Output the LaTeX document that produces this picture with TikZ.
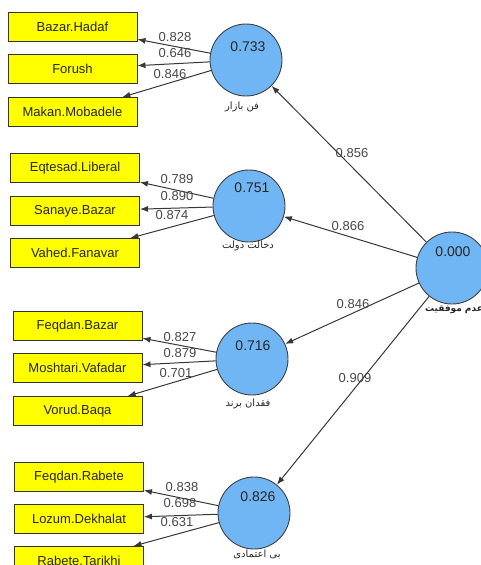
\documentclass[tikz,border=0pt]{standalone}
\usepackage{fontspec}
\setmainfont{Liberation Sans}
\newfontfamily\arabicfont[Script=Arabic]{DejaVu Sans}
\TeXXeTstate=1
\usetikzlibrary{arrows.meta}
\definecolor{boxyellow}{RGB}{255,255,0}
\definecolor{latblue}{RGB}{112,182,244}
\definecolor{linegray}{RGB}{55,55,55}
\begin{document}
\begin{tikzpicture}[x=1pt,y=-1pt,
  ind/.style={draw=black!80, line width=0.9pt, fill=boxyellow, minimum width=129pt, minimum height=29pt, inner sep=0pt, font=\fontsize{13}{15}\selectfont, text=black!85},
  lat/.style={circle, draw=black!75, line width=0.9pt, fill=latblue, minimum size=72pt, inner sep=0pt},
  arr/.style={draw=linegray, line width=1pt, -{Latex[length=8pt,width=6pt]}},
  wt/.style={font=\fontsize{13}{15}\selectfont, text=black!72, inner sep=0pt},
  rsq/.style={font=\fontsize{14}{16}\selectfont, text=black!85, inner sep=0pt},
  alab/.style={font=\arabicfont\fontsize{10}{12}\selectfont, inner sep=0pt, text=black!85}]
\useasboundingbox (0,0) rectangle (480,565);
% latent variables
\node[lat] (c1) at (246,60) {};
\node[lat] (c2) at (249,206) {};
\node[lat] (c3) at (252,359) {};
\node[lat] (c4) at (254,513) {};
\node[lat] (c0) at (452,268) {};
% indicators
\node[ind] (b11) at (72.5,27) {Bazar.Hadaf};
\node[ind] (b12) at (72.5,69) {Forush};
\node[ind] (b13) at (72.5,112) {Makan.Mobadele};
\node[ind] (b21) at (75,168) {Eqtesad.Liberal};
\node[ind] (b22) at (75,211) {Sanaye.Bazar};
\node[ind] (b23) at (75,253) {Vahed.Fanavar};
\node[ind] (b31) at (77.5,326) {Feqdan.Bazar};
\node[ind] (b32) at (77.5,368) {Moshtari.Vafadar};
\node[ind] (b33) at (77.5,411) {Vorud.Baqa};
\node[ind] (b41) at (79,477) {Feqdan.Rabete};
\node[ind] (b42) at (79,519) {Lozum.Dekhalat};
\node[ind] (b43) at (79,561) {Rabete.Tarikhi};
% R2 values
\node[rsq] (r1) at (248,47) {0.733};
\node[rsq] (r2) at (252,188) {0.751};
\node[rsq] (r3) at (253,346) {0.716};
\node[rsq] (r4) at (258,497) {0.826};
\node[rsq] (r0) at (453,252) {0.000};
% names
\node[alab] (n1) at (242,107) {\beginR فن بازار\endR};
\node[alab] (n2) at (248,246) {\beginR دخالت دولت\endR};
\node[alab] (n3) at (248,404) {\beginR فقدان برند\endR};
\node[alab] (n4) at (257,554) {\beginR بی اعتمادی\endR};
\node[alab, font=\arabicfont\bfseries\fontsize{9}{11}\selectfont] (n0) at (454,310) {\beginR عدم موفقیت\endR};
% outer loadings
\draw[arr] (c1) -- (b11);
\draw[arr] (c1) -- (b12);
\draw[arr] (c1) -- (b13);
\draw[arr] (c2) -- (b21);
\draw[arr] (c2) -- (b22);
\draw[arr] (c2) -- (b23);
\draw[arr] (c3) -- (b31);
\draw[arr] (c3) -- (b32);
\draw[arr] (c3) -- (b33);
\draw[arr] (c4) -- (b41);
\draw[arr] (c4) -- (b42);
\draw[arr] (c4) -- (b43);
% structural paths
\draw[arr] (c0) -- (c1);
\draw[arr] (c0) -- (c2);
\draw[arr] (c0) -- (c3);
\draw[arr] (c0) -- (c4);
% weights
\node[wt] at (175,37) {0.828};
\node[wt] at (175,53) {0.646};
\node[wt] at (170,74) {0.846};
\node[wt] at (177,179) {0.789};
\node[wt] at (177,196) {0.890};
\node[wt] at (172,215) {0.874};
\node[wt] at (180,337) {0.827};
\node[wt] at (180,353) {0.879};
\node[wt] at (176,373) {0.701};
\node[wt] at (182,487) {0.838};
\node[wt] at (180,503) {0.698};
\node[wt] at (177,522) {0.631};
\node[wt] at (352,153) {0.856};
\node[wt] at (348,226) {0.866};
\node[wt] at (353,304) {0.846};
\node[wt] at (355,378) {0.909};
\end{tikzpicture}
\end{document}
